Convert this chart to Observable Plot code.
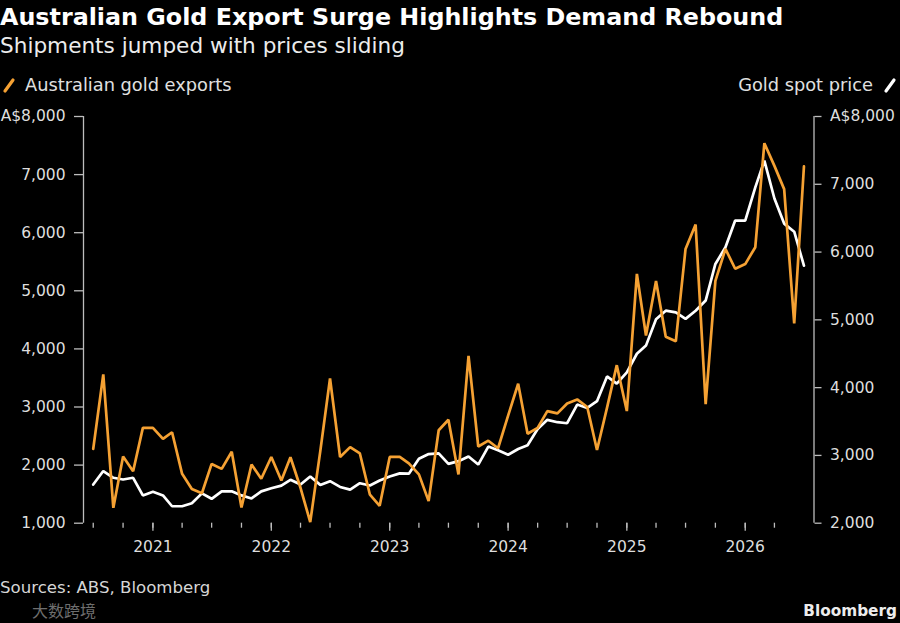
<!DOCTYPE html>
<html>
<head>
<meta charset="utf-8">
<script src="https://cdn.jsdelivr.net/npm/d3@7"></script>
<script src="https://cdn.jsdelivr.net/npm/@observablehq/plot@0.6"></script>
<style>
  html, body { margin: 0; padding: 0; background: #000; }
  body { width: 900px; height: 623px; position: relative; overflow: hidden; font-family: "DejaVu Sans", sans-serif; }
  .layer { position: absolute; left: 0; }
</style>
</head>
<body>
<svg class="layer" id="head" style="top:0" width="900" height="100">
  <text x="0" y="25" fill="#ffffff" font-size="23.8" font-weight="700" font-family="DejaVu Sans">Australian Gold Export Surge Highlights Demand Rebound</text>
  <text x="0" y="53" fill="#ececec" font-size="21.6" font-family="DejaVu Sans">Shipments jumped with prices sliding</text>
  <line x1="5" y1="91" x2="13" y2="80" stroke="#f5a133" stroke-width="3.2" stroke-linecap="round"/>
  <text x="25" y="91" fill="#e0e0e0" font-size="17.8" font-family="DejaVu Sans">Australian gold exports</text>
  <text x="873" y="91" fill="#e0e0e0" font-size="17.8" text-anchor="end" font-family="DejaVu Sans">Gold spot price</text>
  <line x1="886" y1="91" x2="894" y2="80" stroke="#ffffff" stroke-width="3.2" stroke-linecap="round"/>
</svg>
<div class="layer" id="chart" style="top:100px"></div>
<svg class="layer" id="foot" style="top:570px" width="900" height="53">
  <text x="0" y="23" fill="#d6d6d6" font-size="16.6" font-family="DejaVu Sans">Sources: ABS, Bloomberg</text>
  <text x="32" y="47" fill="#6e6e6e" font-size="16" font-family="Noto Sans CJK SC">大数跨境</text>
  <text x="897" y="46" fill="#ececec" font-size="15.3" font-weight="700" text-anchor="end" font-family="DejaVu Sans">Bloomberg</text>
</svg>
<script>
// ---- data (monthly, Jul 2020 – Jul 2026) ----
const startMonth = "2020-07";
const endMonth = "2026-07";
// Australian gold exports, A$ million (left axis)
const goldExports = [
  2280, 3560, 1265, 2150, 1895, 2640, 2640, 2450, 2565, 1850, 1590, 1515,
  2020, 1935, 2230, 1270, 2010, 1765, 2140, 1735, 2135, 1610, 1020, 2240,
  3490, 2140, 2310, 2200, 1490, 1300, 2140, 2140, 2030, 1840, 1380, 2600,
  2780, 1840, 3880, 2320, 2420, 2290, 2850, 3400, 2540, 2640, 2930, 2890,
  3060, 3130, 3000, 2260, 2990, 3720, 2930, 5290, 4230, 5170, 4210, 4130,
  5720, 6140, 3050, 5170, 5720, 5380, 5460, 5750, 7540, 7150, 6750, 4440,
  7140
];
// Gold spot price, A$ per ounce (right axis)
const goldSpot = [
  2570, 2770, 2670, 2645, 2670, 2410, 2465, 2410, 2250, 2250, 2295, 2440,
  2360, 2470, 2470, 2410, 2365, 2470, 2515, 2555, 2640, 2570, 2690, 2565,
  2620, 2535, 2495, 2590, 2556, 2630, 2690, 2735, 2730, 2950, 3020, 3030,
  2875, 2915, 2985, 2865, 3130, 3075, 3010, 3095, 3150, 3390, 3525, 3490,
  3475, 3750, 3700, 3800, 4165, 4060, 4225, 4500, 4620, 5010, 5135, 5110,
  5015, 5135, 5285, 5825, 6070, 6465, 6465, 6955, 7350, 6790, 6420, 6300,
  5800
];
const leftTicks = [1000, 2000, 3000, 4000, 5000, 6000, 7000, 8000];
const rightTicks = [2000, 3000, 4000, 5000, 6000, 7000, 8000];
const years = [2021, 2022, 2023, 2024, 2025, 2026];
const leftDomain = [1000, 8000];
const rightDomain = [2000, 8000];

// ---- build ----
const parseMonth = d3.utcParse("%Y-%m");
const months = d3.utcMonth.range(parseMonth(startMonth), d3.utcMonth.offset(parseMonth(endMonth), 1));
const rows = months.map((m, i) => ({date: m, exports: goldExports[i], spot: goldSpot[i]}));

// map right-axis values into left-axis units
const toLeft = p => leftDomain[0] + (p - rightDomain[0]) * (leftDomain[1] - leftDomain[0]) / (rightDomain[1] - rightDomain[0]);
const fromLeft = v => rightDomain[0] + (v - leftDomain[0]) * (rightDomain[1] - rightDomain[0]) / (leftDomain[1] - leftDomain[0]);

const xDomain = [d3.utcMonth.offset(months[0], -1), d3.utcMonth.offset(months[months.length - 1], 1)];
const quarterTicks = d3.utcMonth.every(3).range(months[0], months[months.length - 1]);
const yearTicks = years.map(y => new Date(Date.UTC(y, 0, 1)));
const fmt = d3.format(",");
const axisColor = "#bdbdbd";

const chart = Plot.plot({
  width: 900,
  height: 470,
  marginLeft: 83,
  marginRight: 86.5,
  marginTop: 16,
  marginBottom: 47.3,
  style: {background: "#000", color: "#dedede", fontFamily: "DejaVu Sans", fontSize: "15.5px", overflow: "visible"},
  x: {type: "utc", domain: xDomain},
  y: {domain: leftDomain},
  marks: [
    Plot.ruleX([xDomain[0]], {y1: leftDomain[0], y2: leftDomain[1], stroke: axisColor, strokeWidth: 1.3}),
    Plot.ruleX([xDomain[1]], {y1: leftDomain[0], y2: leftDomain[1], stroke: axisColor, strokeWidth: 1.3}),
    Plot.axisY({
      ticks: leftTicks, tickSize: 9, tickPadding: 9, label: null, stroke: axisColor, strokeWidth: 1.3,
      tickFormat: d => d === leftDomain[1] ? "A$" + fmt(d) : fmt(d)
    }),
    Plot.axisY({
      anchor: "right", ticks: rightTicks.map(toLeft), tickSize: 7, tickPadding: 9, label: null, stroke: axisColor, strokeWidth: 1.3,
      tickFormat: d => { const p = Math.round(fromLeft(d)); return p === rightDomain[1] ? "A$" + fmt(p) : fmt(p); }
    }),
    Plot.axisX({ticks: quarterTicks, tickSize: 5, tickFormat: () => "", label: null, stroke: axisColor, strokeWidth: 1.3}),
    Plot.axisX({ticks: yearTicks, tickSize: 8, tickPadding: 10, tickFormat: d3.utcFormat("%Y"), label: null, stroke: axisColor, strokeWidth: 1.3}),
    Plot.lineY(rows, {x: "date", y: d => toLeft(d.spot), stroke: "#ffffff", strokeWidth: 2.7, strokeLinejoin: "miter"}),
    Plot.lineY(rows, {x: "date", y: "exports", stroke: "#f5a133", strokeWidth: 2.7, strokeLinejoin: "miter"})
  ]
});
document.getElementById("chart").appendChild(chart);
</script>
</body>
</html>
